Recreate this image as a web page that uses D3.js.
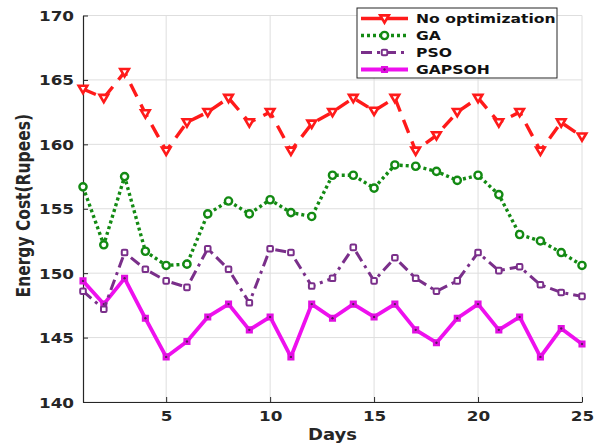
<!DOCTYPE html>
<html>
<head>
<meta charset="utf-8">
<script src="https://cdn.jsdelivr.net/npm/d3@7"></script>
<style>
  html, body { margin: 0; padding: 0; background: #fff; }
  svg { display: block; }
</style>
</head>
<body>
<div id="chart"></div>
<script>
// ---------------------------------------------------------
//  Energy cost per day — four methods compared
// ---------------------------------------------------------
const days = d3.range(1, 26);
const noOpt  = [164.3, 163.6, 165.6, 162.4, 159.5, 161.7, 162.5, 163.6, 161.7, 162.5,
                159.5, 161.6, 162.5, 163.6, 162.6, 163.6, 159.5, 160.7, 162.5, 163.6,
                161.7, 162.5, 159.5, 161.7, 160.6];
const ga     = [156.7, 152.2, 157.5, 151.7, 150.6, 150.7, 154.6, 155.6, 154.6, 155.7,
                154.7, 154.4, 157.6, 157.6, 156.6, 158.4, 158.3, 157.9, 157.2, 157.6,
                156.1, 153.0, 152.5, 151.6, 150.6];
const pso    = [148.6, 147.2, 151.6, 150.3, 149.4, 148.9, 151.9, 150.3, 147.7, 151.9,
                151.6, 149.0, 149.6, 152.0, 149.4, 151.2, 149.6, 148.6, 149.4, 151.6,
                150.2, 150.5, 149.1, 148.5, 148.2];
const gapsoh = [149.4, 147.6, 149.6, 146.5, 143.5, 144.7, 146.6, 147.6, 145.6, 146.6,
                143.5, 147.6, 146.5, 147.6, 146.6, 147.6, 145.6, 144.6, 146.5, 147.6,
                145.6, 146.6, 143.5, 145.7, 144.5];
const seriesNames = ['No optimization', 'GA', 'PSO', 'GAPSOH'];
const xTicks = [5, 10, 15, 20, 25];
const yTicks = [140, 145, 150, 155, 160, 165, 170];

const W = 606, H = 445;
const m = { t: 15.5, r: 24, b: 43, l: 83 };
const SX = 1.2;               // source image is stretched sideways
const FONT = 'DejaVu Sans, sans-serif';
const INK = '#262626';

const svg = d3.select('#chart').append('svg')
  .attr('width', W).attr('height', H)
  .attr('viewBox', `0 0 ${W} ${H}`);

const x = d3.scaleLinear().domain([1, 25]).range([m.l, W - m.r]);
const y = d3.scaleLinear().domain([140, 170]).range([H - m.b, m.t]);

// grid
const grid = svg.append('g').attr('stroke', '#dedede').attr('stroke-width', 1);
grid.selectAll('line.gx').data(xTicks).join('line').attr('class', 'gx')
  .attr('x1', d => x(d)).attr('x2', d => x(d))
  .attr('y1', y(140)).attr('y2', y(170));
grid.selectAll('line.gy').data(yTicks).join('line').attr('class', 'gy')
  .attr('x1', x(1)).attr('x2', x(25))
  .attr('y1', d => y(d)).attr('y2', d => y(d));

// axes (left + bottom, inward ticks)
const axX = svg.append('g').attr('transform', `translate(0,${y(140)})`)
  .call(d3.axisBottom(x).tickValues(xTicks).tickSizeInner(-5).tickSizeOuter(0).tickPadding(0))
  .call(g => g.select('.domain').attr('stroke', INK).attr('stroke-width', 1.2))
  .call(g => g.selectAll('.tick line').attr('stroke', INK));
axX.selectAll('.tick text')
  .attr('fill', INK).attr('font-family', FONT).attr('font-weight', 'bold').attr('font-size', 14)
  .attr('y', 0).attr('dy', 0)
  .attr('transform', `translate(0,19) scale(${SX},1)`);

const axY = svg.append('g').attr('transform', `translate(${x(1)},0)`)
  .call(d3.axisLeft(y).tickValues(yTicks).tickSizeInner(-5).tickSizeOuter(0).tickPadding(0))
  .call(g => g.select('.domain').attr('stroke', INK).attr('stroke-width', 1.2))
  .call(g => g.selectAll('.tick line').attr('stroke', INK));
axY.selectAll('.tick text')
  .attr('fill', INK).attr('font-family', FONT).attr('font-weight', 'bold').attr('font-size', 14)
  .attr('x', 0).attr('dy', '0.36em')
  .attr('transform', `translate(-9,0) scale(${SX},1)`);

// axis titles
svg.append('text')
  .attr('transform', `translate(${(x(1) + x(25)) / 2},${H - 5}) scale(${SX},1)`)
  .attr('text-anchor', 'middle')
  .attr('font-family', FONT).attr('font-weight', 'bold').attr('font-size', 15)
  .attr('fill', INK).text('Days');
svg.append('text')
  .attr('transform', `translate(30,${(y(140) + y(170)) / 2 - 3}) scale(${SX},1) rotate(-90)`)
  .attr('text-anchor', 'middle')
  .attr('font-family', FONT).attr('font-weight', 'bold').attr('font-size', 15.5)
  .attr('fill', INK).text('Energy Cost(Rupees)');

// marker shapes
const tri = d3.symbol().type({
  draw(ctx, size) {           // downward triangle
    const s = Math.sqrt(size);
    ctx.moveTo(-s * 0.62, -s * 0.45);
    ctx.lineTo(s * 0.62, -s * 0.45);
    ctx.lineTo(0, s * 0.6);
    ctx.closePath();
  }
});

const series = [
  { name: seriesNames[0], vals: noOpt,  color: '#ff1a1a', width: 3.4, dash: '14 9',
    marker: (g) => g.append('path').attr('d', tri.size(48)())
      .attr('fill', '#fff').attr('stroke', '#ff1a1a').attr('stroke-width', 2.6) },
  { name: seriesNames[1], vals: ga,     color: '#138a13', width: 3.4, dash: '3 3',
    marker: (g) => g.append('circle').attr('r', 3.6)
      .attr('fill', '#fff').attr('stroke', '#138a13').attr('stroke-width', 2.4) },
  { name: seriesNames[2], vals: pso,    color: '#7a2f8a', width: 3, dash: '11 5 3 5',
    marker: (g) => g.append('rect').attr('x', -2.8).attr('y', -2.8).attr('width', 5.6).attr('height', 5.6)
      .attr('rx', 1.2)
      .attr('fill', '#fff').attr('stroke', '#7a2f8a').attr('stroke-width', 2) },
  { name: seriesNames[3], vals: gapsoh, color: '#ee10ee', width: 3.8, dash: null,
    marker: (g) => {
      g.append('path').attr('d', d3.symbol(d3.symbolSquare, 26)())
        .attr('fill', '#ee10ee').attr('stroke', '#e010e0').attr('stroke-width', 2);
      g.append('circle').attr('r', 1.2).attr('fill', '#5a1a5a');
    } }
];

const line = vals => d3.line()
  .x((d, i) => x(days[i]))
  .y(d => y(d))(vals);

// draw bottom-up so the red series sits on top like the source
[...series].reverse().forEach(s => {
  svg.append('path')
    .attr('d', line(s.vals))
    .attr('fill', 'none')
    .attr('stroke', s.color)
    .attr('stroke-width', s.width)
    .attr('stroke-dasharray', s.dash)
    .attr('stroke-linejoin', 'round');
  svg.append('g').selectAll('g')
    .data(s.vals).join('g')
    .attr('transform', (d, i) => `translate(${x(days[i])},${y(d)})`)
    .each(function () { s.marker(d3.select(this)); });
});

// legend
const lg = svg.append('g').attr('transform', 'translate(357,8)');
lg.append('rect').attr('width', 200).attr('height', 70)
  .attr('fill', '#fff').attr('stroke', INK).attr('stroke-width', 1);
const rowY = d3.scalePoint().domain(seriesNames).range([10.5, 61.5]);
series.forEach(s => {
  const r = lg.append('g').attr('transform', `translate(0,${rowY(s.name)})`);
  r.append('line').attr('x1', 4).attr('x2', 51)
    .attr('stroke', s.color).attr('stroke-width', s.width)
    .attr('stroke-dasharray', s.name === seriesNames[0] ? null : s.dash);
  s.marker(r.append('g').attr('transform', 'translate(27.5,0)'));
  r.append('text')
    .attr('transform', `translate(59,0) scale(${SX},1)`)
    .attr('dy', '0.36em')
    .attr('font-family', FONT).attr('font-weight', 'bold').attr('font-size', 13)
    .attr('fill', '#111').text(s.name);
});
</script>
</body>
</html>
